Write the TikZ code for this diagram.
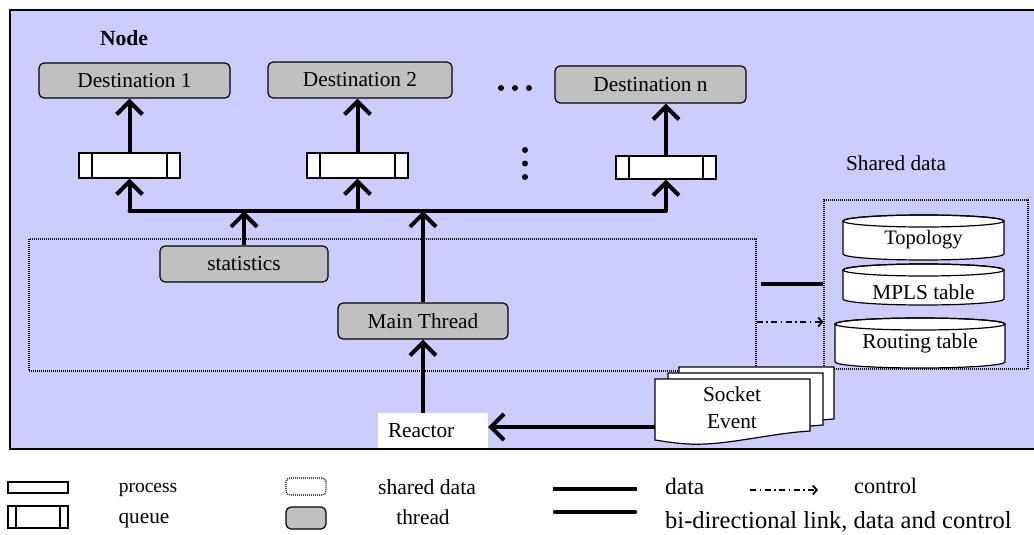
\documentclass[tikz,border=0pt]{standalone}
\usepackage{fontspec}
\setmainfont{Liberation Serif}
\newfontfamily\tms{Liberation Serif}
\usetikzlibrary{arrows.meta}
\definecolor{lav}{HTML}{CCCCFF}
\definecolor{thr}{HTML}{C0C0C0}
\newcommand\cylshape[4]{% x1, x2, ytop, ybot
  \pgfmathsetmacro\rx{(#2-#1)/2}
  \pgfmathsetmacro\cx{(#2+#1)/2}
  \draw[fill=white, line width=1.2pt] (#1,#3+6) -- (#1,#4-6)
     arc[start angle=180, end angle=0, x radius=\rx, y radius=6]
     -- (#2,#3+6) arc[start angle=0, end angle=-180, x radius=\rx, y radius=6] -- cycle;
  \draw[line width=1.2pt] (\cx,#3+6) ellipse [x radius=\rx, y radius=6];
}
\newcommand\docshape{%
  (655,379) -- (810,379) -- (810,431)
  .. controls (765,434) and (725,446) .. (688,444)
  .. controls (672,443) and (662,441) .. (655,440) -- cycle}
\newcommand\fsz[1]{\fontsize{#1}{27}\selectfont}
\begin{document}
\begin{tikzpicture}[x=1pt,y=-1pt,
  every node/.style={font=\tms\fsz{21.3}, inner sep=0pt},
  thread/.style={draw, fill=thr, rounded corners=5pt, line width=1.2pt},
  queuebox/.style={draw, fill=white, line width=1.2pt, minimum width=101pt, minimum height=25pt,
    path picture={\draw[line width=1.2pt]
      ([xshift=#1pt]path picture bounding box.north west) -- ([xshift=#1pt]path picture bounding box.south west)
      ([xshift=-#1pt]path picture bounding box.north east) -- ([xshift=-#1pt]path picture bounding box.south east);}},
  queuebox/.default=13,
  dataarrow/.style={line width=4pt, -{Straight Barb[length=13pt,width=26pt]}},
  dataline/.style={line width=4pt},
  ctrlarrow/.style={line width=1.4pt, dash pattern=on 6pt off 3.5pt on 1.5pt off 3.5pt, -{Straight Barb[length=4pt,width=9pt,line width=1.8pt]}},
  dotframe/.style={draw, line width=1.2pt, dash pattern=on 1pt off 1pt},
  dotmark/.style={circle, fill, minimum size=6pt},
]
\clip (0,0) rectangle (1034,535);
% outer frame
\draw[fill=lav, line width=1.8pt] (10,10) rectangle (1045,449);

\node[font=\tms\bfseries\fsz{21.6}] (nodelabel) at (124,38) {Node};

\node[thread, minimum width=191pt, minimum height=35pt] (d1) at (134.5,80.5) {Destination 1};
\node[thread, minimum width=184pt, minimum height=36pt] (d2) at (360,80) {Destination 2};
\node[thread, minimum width=191pt, minimum height=37pt] (dn) at (650.5,84.5) {Destination n};

\node[dotmark] (h1) at (501,88) {};
\node[dotmark] (h2) at (515,88) {};
\node[dotmark] (h3) at (529,88) {};
\node[dotmark] (v1) at (525,150) {};
\node[dotmark] (v2) at (525,163.5) {};
\node[dotmark] (v3) at (525,177) {};

\node[queuebox] (q1) at (129.5,165.5) {};
\node[queuebox] (q2) at (357.5,165.5) {};
\node[queuebox, minimum width=100pt, minimum height=23pt] (qn) at (666,167.5) {};

\node[dotframe, minimum width=727pt, minimum height=132pt] (threads) at (392.5,305) {};
\node[thread, minimum width=168pt, minimum height=36pt] (stat) at (244,264) {statistics};
\node[thread, minimum width=170pt, minimum height=36pt] (main) at (423,321) {Main Thread};

\coordinate (bus) at (0,211);
\draw[dataline, line cap=round] (q1.south |- bus) -- (qn.south |- bus);
\draw[dataarrow] (q1.south |- bus) -- (q1.south);
\draw[dataarrow] (q2.south |- bus) -- (q2.south);
\draw[dataarrow] (qn.south |- bus) -- (qn.south);
\draw[dataarrow] (q1.north) -- (q1.north |- d1.south);
\draw[dataarrow] (q2.north) -- (q2.north |- d2.south);
\draw[dataarrow] (qn.north) -- (qn.north |- dn.south);
\draw[dataarrow] (stat.north) -- (stat.north |- bus);
\draw[dataarrow] (main.north) -- (main.north |- bus);

% shared data
\node (sharedlabel) at (896,163) {Shared data};
\node[dotframe, minimum width=204pt, minimum height=169pt] (shared) at (926,284.5) {};
\cylshape{843}{1004}{215}{260}
\cylshape{843}{1004}{264}{305}
\cylshape{835}{1005}{318}{368}
\node[font=\tms\fsz{20.5}] (topo) at (923.5,240) {Topology};
\node (mpls) at (923.5,292) {MPLS table};
\node (routing) at (920,343) {Routing table};

\coordinate (linkL) at (761,284);
\draw[dataline] (linkL) -- (shared.west |- linkL);
\coordinate (ctrlL) at (threads.east |- 0,322);
\draw[ctrlarrow] (ctrlL) -- (shared.west |- ctrlL);

% socket event
\begin{scope}[shift={(24,-12)}]
\draw[fill=white, line width=1.2pt] \docshape;
\end{scope}
\begin{scope}[shift={(13,-6)}]
\draw[fill=white, line width=1.2pt] \docshape;
\end{scope}
\draw[fill=white, line width=1.2pt] \docshape;
\node[align=center] (sock) at (732,408) {Socket\\Event};

% reactor
\node[fill=white, minimum width=110pt, minimum height=35pt, text width=90pt, align=left] (reactor) at (433,430.5) {Reactor};
\draw[dataarrow] (main.south |- reactor.north) -- (main.south);
\coordinate (sockw) at (655,427);
\draw[dataarrow] (sockw) -- (reactor.east |- sockw);

% legend
\node[draw, line width=1.2pt, minimum width=60pt, minimum height=11pt] (lgproc) at (38,487.5) {};
\node[queuebox=8, minimum width=60pt, minimum height=22pt] (lgqueue) at (38,517) {};
\node[font=\tms\fsz{19.5}] (lgproctxt) at (148,490) {process};
\node (lgqueuetxt) at (144,521) {queue};
\node[dotframe, rounded corners=4pt, minimum width=40pt, minimum height=17pt] (lgshared) at (306,486.5) {};
\node[thread, minimum width=40pt, minimum height=22pt] (lgthread) at (306,518) {};
\node[font=\tms\fsz{21.6}] (lgsharedtxt) at (427,487) {shared data};
\node (lgthreadtxt) at (423,517) {thread};

\coordinate (lgdA) at (553,489);
\coordinate (lgdB) at (637,489);
\draw[line width=4.5pt] (lgdA) -- (lgdB);
\coordinate (lgbA) at (555,512);
\coordinate (lgbB) at (635,512);
\draw[line width=4.5pt, line cap=round] (lgbA) -- (lgbB);
\node[anchor=west, font=\tms\fsz{23.5}] (lgdatatxt) at (665,486) {data};
\coordinate (lgcA) at (750,490);
\coordinate (lgcB) at (818,490);
\draw[ctrlarrow] (lgcA) -- (lgcB);
\node[anchor=west, font=\tms\fsz{22.2}] (lgctrltxt) at (854,486) {control};
\node[anchor=west, font=\tms\fsz{24.5}] (lgbitxt) at (665,522) {bi-directional link, data and control};
\end{tikzpicture}
\end{document}
